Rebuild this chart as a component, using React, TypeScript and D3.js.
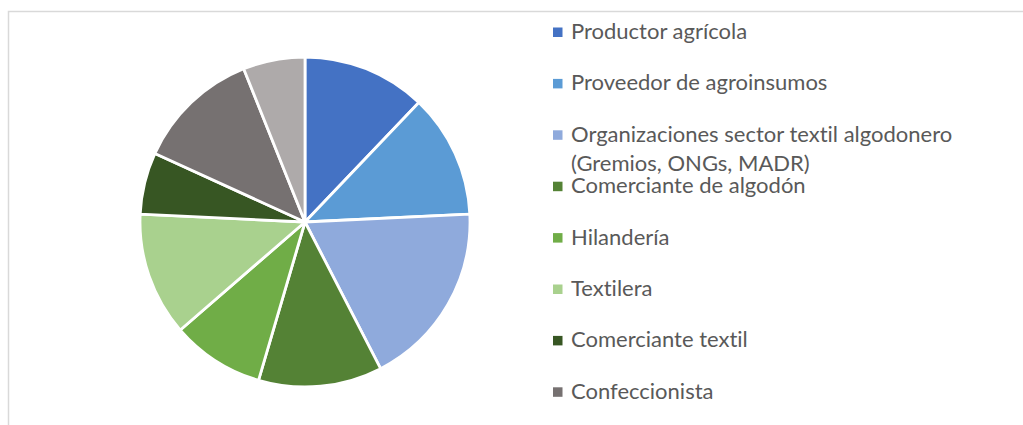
import React from "react";
import * as d3 from "d3";

const categories: string[] = [
  "Productor agrícola",
  "Proveedor de agroinsumos",
  "Organizaciones sector textil algodonero (Gremios, ONGs, MADR)",
  "Comerciante de algodón",
  "Hilandería",
  "Textilera",
  "Comerciante textil",
  "Confeccionista",
  "Otros",
];
const values: number[] = [4, 4, 6, 4, 3, 4, 2, 4, 2];
const colors: string[] = [
  "#4472C4",
  "#5B9BD5",
  "#8FAADC",
  "#548235",
  "#70AD47",
  "#A9D18E",
  "#375623",
  "#767171",
  "#AEAAAA",
];
const legendLines: string[][] = [
  ["Productor agrícola"],
  ["Proveedor de agroinsumos"],
  ["Organizaciones sector textil algodonero", "(Gremios, ONGs, MADR)"],
  ["Comerciante de algodón"],
  ["Hilandería"],
  ["Textilera"],
  ["Comerciante textil"],
  ["Confeccionista"],
  ["Otros"],
];

const W = 1023;
const H = 425;

export default function App() {
  const cx = 305;
  const cy = 222;
  const r = 165;
  const pie = d3
    .pie<number>()
    .sort(null)
    .value((d) => d)
    .startAngle(0)
    .endAngle(2 * Math.PI);
  const arcs = pie(values);
  const arc = d3.arc<d3.PieArcDatum<number>>().innerRadius(0).outerRadius(r);

  const legendY = d3
    .scalePoint<number>()
    .domain(d3.range(categories.length))
    .range([32, 32 + 51.4 * (categories.length - 1)]);

  // Legend overflows the chart area; entries past the bottom are not shown (as in the original)
  const visible = categories
    .map((c, i) => ({ c, i, y: legendY(i) as number }))
    .filter((d) => d.y + 10 < H);

  return (
    <svg
      width={W}
      height={H}
      style={{ position: "fixed", left: 0, top: 0, background: "#fff" }}
      fontFamily="Lato, 'Open Sans', sans-serif"
    >
      <rect x={0} y={0} width={W} height={H} fill="#fff" />
      <rect
        x={8.5}
        y={11.5}
        width={W + 20}
        height={H + 20}
        fill="none"
        stroke="#d9d9d9"
        strokeWidth={1.5}
      />
      <g transform={`translate(${cx},${cy})`}>
        {arcs.map((a, i) => (
          <path
            key={categories[i]}
            d={arc(a) || ""}
            fill={colors[i]}
            stroke="#fff"
            strokeWidth={2.8}
            strokeLinejoin="round"
          />
        ))}
      </g>
      <g>
        {visible.map(({ c, i, y }) => (
          <g key={c}>
            <rect x={553} y={y - 4.5} width={9.5} height={9.5} fill={colors[i]} />
            <text
              x={571}
              y={y + 7}
              fontSize={22}
              fill="#595959"
              style={{ fontVariantLigatures: "none", fontFeatureSettings: "'liga' 0" }}
            >
              {legendLines[i].map((line, j) => (
                <tspan key={j} x={571} dy={j === 0 ? 0 : 29.5}>
                  {line}
                </tspan>
              ))}
            </text>
          </g>
        ))}
      </g>
    </svg>
  );
}
